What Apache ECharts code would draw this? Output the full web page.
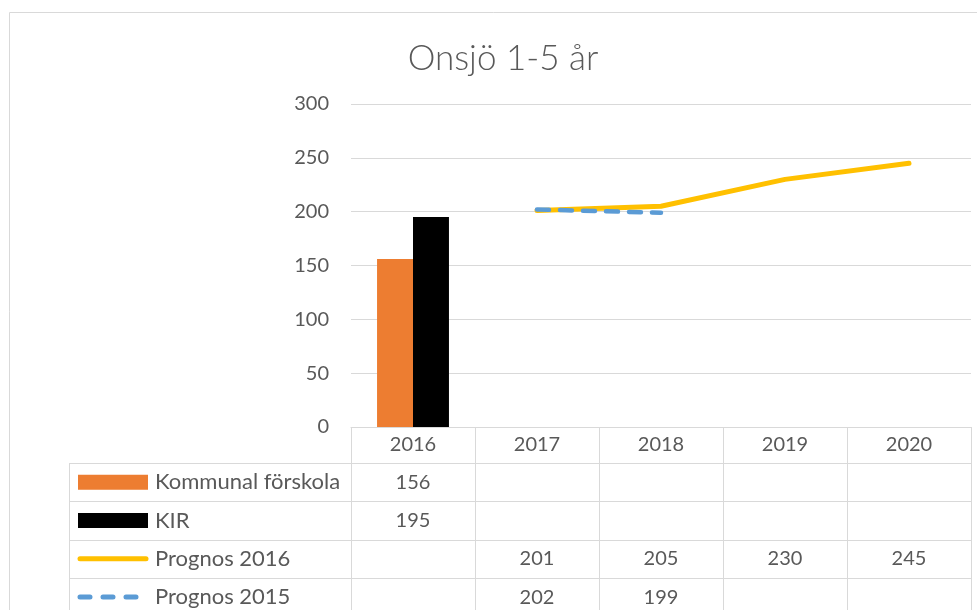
<!DOCTYPE html>
<html><head><meta charset="utf-8">
<script src="https://cdn.jsdelivr.net/npm/echarts@6/dist/echarts.min.js"></script>
<style>html,body{margin:0;padding:0;background:#fff}#c{width:977px;height:610px}</style>
</head><body><div id="c"></div>
<script>
const titleText = 'Onsjö 1-5 år';
const categories = ['2016','2017','2018','2019','2020'];
const kommunal = [156, null, null, null, null];
const kir = [195, null, null, null, null];
const prognos2016 = [null, 201, 205, 230, 245];
const prognos2015 = [null, 202, 199, null, null];
const seriesNames = ['Kommunal förskola','KIR','Prognos 2016','Prognos 2015'];
const yTicks = [0, 50, 100, 150, 200, 250, 300];

const FONT = 'Lato';
const TXT = '#595959';
const GRID = '#d9d9d9';
const colors = ['#ED7D31', '#000000', '#FFC000', '#5B9BD5'];

const chart = echarts.init(document.getElementById('c'), null, {renderer:'canvas'});
const option = {
  animation: false,
  textStyle: {fontFamily: FONT},
  grid: {left: 351, right: 6, top: 104, bottom: 183},
  xAxis: {type: 'category', data: categories,
    axisLine: {show: true, lineStyle: {color: GRID, width: 1}},
    axisTick: {show: false}, axisLabel: {show: false}, splitLine: {show: false}},
  yAxis: {type: 'value', min: yTicks[0], max: yTicks[yTicks.length-1], interval: 50,
    axisLine: {show: false}, axisTick: {show: false},
    axisLabel: {color: TXT, fontSize: 20, fontFamily: FONT, margin: 22},
    splitLine: {lineStyle: {color: GRID, width: 1}}},
  series: [
    {name: seriesNames[0], type: 'bar', data: kommunal, barGap: '0%', barCategoryGap: '42%', itemStyle: {color: colors[0]}},
    {name: seriesNames[1], type: 'bar', data: kir, barGap: '0%', barCategoryGap: '42%', itemStyle: {color: colors[1]}},
    {name: seriesNames[2], type: 'line', data: prognos2016, symbol: 'none', connectNulls: false,
      lineStyle: {color: colors[2], width: 5, cap: 'round', join: 'round'}},
    {name: seriesNames[3], type: 'line', data: prognos2015, symbol: 'none',
      lineStyle: {color: colors[3], width: 4.5, type: [12, 11], cap: 'round', join: 'round'}}
  ]
};
chart.setOption(option);

// data table under the plot, positioned via the axis scale
const tableRows = [kommunal, kir, prognos2016, prognos2015];
const g = [];
const x0 = chart.convertToPixel({xAxisIndex:0}, categories[0]);
const x1 = chart.convertToPixel({xAxisIndex:0}, categories[1]);
const cw = x1 - x0;
const plotLeft = x0 - cw/2;
const plotRight = chart.convertToPixel({xAxisIndex:0}, categories[categories.length-1]) + cw/2;
const yBase = chart.convertToPixel({yAxisIndex:0}, 0);
const headerH = 36;
const rowH = 38.3;
const tableLeft = 69;
// outer chart border
g.push({type:'rect', shape:{x:9.5, y:12.5, width:1000, height:700}, style:{fill:'none', stroke:GRID, lineWidth:1}, silent:true});
// title
g.push({type:'text', x:503, y:59, style:{text:titleText, fill:TXT, font:'300 35px ' + FONT, textAlign:'center', textVerticalAlign:'middle'}});
// vertical column lines
for (let i = 0; i <= categories.length; i++) {
  const x = Math.round(plotLeft + i*cw) + 0.5;
  g.push({type:'line', shape:{x1:x, y1:yBase, x2:x, y2:620}, style:{stroke:GRID, lineWidth:1}});
}
g.push({type:'line', shape:{x1:tableLeft+0.5, y1:yBase+headerH, x2:tableLeft+0.5, y2:620}, style:{stroke:GRID, lineWidth:1}});
for (let r = 0; r < tableRows.length; r++) {
  const y = Math.round(yBase + headerH + r*rowH) + 0.5;
  g.push({type:'line', shape:{x1:tableLeft, y1:y, x2:plotRight, y2:y}, style:{stroke:GRID, lineWidth:1}});
}
// header years
categories.forEach((c, i) => {
  g.push({type:'text', x: plotLeft + (i+0.5)*cw, y: yBase + headerH/2,
    style:{text:c, fill:TXT, font:'20px ' + FONT, textAlign:'center', textVerticalAlign:'middle'}});
});
// rows
tableRows.forEach((row, r) => {
  const cy = yBase + headerH + r*rowH + rowH/2;
  // legend key
  if (r < 2) {
    g.push({type:'rect', shape:{x:78, y:cy-7.5, width:70, height:15}, style:{fill:colors[r]}});
  } else if (r === 2) {
    g.push({type:'line', shape:{x1:80, y1:cy, x2:146, y2:cy}, style:{stroke:colors[r], lineWidth:5, lineCap:'round'}});
  } else {
    g.push({type:'line', shape:{x1:80, y1:cy, x2:146, y2:cy}, style:{stroke:colors[r], lineWidth:5, lineCap:'round', lineDash:[10,13]}});
  }
  g.push({type:'text', x:155, y:cy, style:{text:seriesNames[r], fill:TXT, font:'22px ' + FONT, textAlign:'left', textVerticalAlign:'middle'}});
  row.forEach((v, i) => {
    if (v == null) return;
    g.push({type:'text', x: plotLeft + (i+0.5)*cw, y: cy,
      style:{text:String(v), fill:TXT, font:'20px ' + FONT, textAlign:'center', textVerticalAlign:'middle'}});
  });
});
chart.setOption({graphic: g});
</script></body></html>
